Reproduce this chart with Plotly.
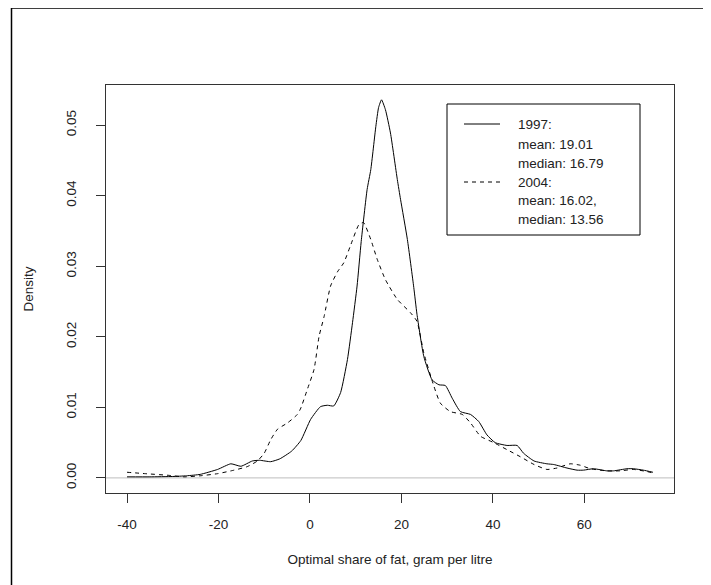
import plotly.graph_objects as go

# 1997 density (solid)
x_1997 = [-40, -35, -30, -27, -24, -20.2, -17.3, -15.1, -12.6, -11, -8.6, -6.6, -4, -2,
          0.15, 2.3, 3.8, 5.2, 6.7, 8.2, 9.3, 10.3, 11.2, 12.5, 13.3, 14.4, 15.0, 15.65,
          16.5, 17.6, 19.1, 19.8, 21.3, 22.7, 23.4, 24.9, 26.7, 28.2, 29.6, 31.1, 32.9,
          35.1, 36.9, 38.7, 40.5, 43.1, 45.3, 46.7, 49, 51.8, 53.3, 56.2, 58.4, 59.8, 62,
          64.9, 66.4, 69.3, 70.7, 72.9, 75]
d_1997 = [0.00015, 0.00015, 0.0002, 0.0003, 0.0005, 0.0012, 0.002, 0.00165, 0.0024, 0.0025,
          0.0023, 0.0027, 0.0038, 0.0053, 0.0083, 0.0101, 0.0103, 0.0102, 0.0121, 0.0168,
          0.022, 0.0272, 0.0335, 0.0409, 0.0437, 0.0498, 0.0525, 0.0536, 0.0522, 0.0489,
          0.0423, 0.0395, 0.0338, 0.027, 0.0232, 0.0172, 0.0139, 0.0132, 0.0131, 0.0113,
          0.0094, 0.009, 0.008, 0.0061, 0.005, 0.0046, 0.0046, 0.0035, 0.0024, 0.002,
          0.0019, 0.0014, 0.0011, 0.0011, 0.0013, 0.001, 0.001, 0.0013, 0.0013, 0.0011, 0.0008]

# 2004 density (dashed)
x_2004 = [-40, -36, -31, -27.5, -24, -20.2, -16.6, -13.7, -11.5, -10, -8.6, -7.1, -4.9,
          -2.75, -2, -0.6, 0.9, 2.0, 3.1, 4.5, 6.0, 7.4, 8.9, 10.7, 11.7, 13.3, 14.7, 16.5,
          19.1, 22.0, 23.4, 24.9, 27.1, 28.5, 30.7, 33.3, 35.1, 37.3, 40.2, 43.1, 46.0,
          49.0, 51.8, 54.0, 56.9, 59.1, 61.3, 64.9, 67.8, 70.7, 73.7, 75]
d_2004 = [0.0008, 0.0006, 0.00037, 0.00015, 0.0003, 0.0006, 0.0011, 0.0016, 0.0024, 0.0035,
          0.0054, 0.0069, 0.0078, 0.009, 0.0099, 0.0125, 0.0154, 0.0201, 0.0229, 0.0272,
          0.0292, 0.0305, 0.0330, 0.0359, 0.0362, 0.0338, 0.031, 0.0281, 0.0253, 0.0234,
          0.0222, 0.0177, 0.013, 0.0106, 0.0094, 0.009, 0.0078, 0.0059, 0.005, 0.004,
          0.003, 0.0019, 0.0012, 0.0014, 0.002, 0.0018, 0.0013, 0.001, 0.001, 0.0012,
          0.0009, 0.0007]

x_ticks = [-40, -20, 0, 20, 40, 60]
y_ticks = [0.00, 0.01, 0.02, 0.03, 0.04, 0.05]

legend_1997 = ["1997:", "mean: 19.01", "median: 16.79"]
legend_2004 = ["2004:", "mean: 16.02,", "median: 13.56"]

FONT = "Liberation Sans, Arial, sans-serif"
W, H = 711, 585
OFF = 8  # page body margin
ML, MR, MT, MB = 98, 45, 77, 100
PW, PH = W - ML - MR, H - MT - MB


def px(xs):
    return (xs - OFF - ML) / PW


def py(ys):
    return (H - MB - (ys - OFF)) / PH


fig = go.Figure()
fig.add_trace(go.Scatter(x=x_1997, y=d_1997, mode="lines",
                         line=dict(color="black", width=1, shape="spline", smoothing=0.5),
                         showlegend=False, hoverinfo="skip"))
fig.add_trace(go.Scatter(x=x_2004, y=d_2004, mode="lines",
                         line=dict(color="black", width=1, dash="4px,4px", shape="spline", smoothing=0.5),
                         showlegend=False, hoverinfo="skip"))

shapes = []
shapes.append(dict(type="line", xref="paper", yref="y", x0=0, x1=1, y0=0, y1=0,
                   line=dict(color="#BEBEBE", width=1), layer="below"))
# outer frame
shapes.append(dict(type="rect", xref="paper", yref="paper", x0=px(11.5), x1=px(740),
                   y0=py(620), y1=py(8), line=dict(color="black", width=1.5)))
# legend box
shapes.append(dict(type="rect", xref="paper", yref="paper", x0=px(447), x1=px(640),
                   y0=py(235), y1=py(104), line=dict(color="black", width=1),
                   fillcolor="white"))
# legend line samples
shapes.append(dict(type="line", xref="paper", yref="paper", x0=px(464), x1=px(500),
                   y0=py(124), y1=py(124), line=dict(color="black", width=1)))
shapes.append(dict(type="line", xref="paper", yref="paper", x0=px(464), x1=px(500),
                   y0=py(182), y1=py(182), line=dict(color="black", width=1, dash="4px,4px")))

annotations = []
ys = [124, 144, 163, 182, 200, 219]
for txt, yy in zip(legend_1997 + legend_2004, ys):
    annotations.append(dict(text=txt, xref="paper", yref="paper", x=px(516), y=py(yy),
                            xanchor="left", yanchor="middle", showarrow=False,
                            font=dict(family=FONT, size=13.5, color="#222")))

fig.update_layout(
    width=W, height=H,
    margin=dict(l=ML, r=MR, t=MT, b=MB, pad=0),
    paper_bgcolor="white", plot_bgcolor="white",
    font=dict(family=FONT, size=13.5, color="#222"),
    shapes=shapes, annotations=annotations,
    xaxis=dict(range=[-44.6, 79.6], tickvals=x_ticks, ticktext=[str(v) for v in x_ticks],
               showgrid=False, zeroline=False, showline=True, mirror=True,
               linecolor="#333", linewidth=1, ticks="outside", ticklen=9,
               tickcolor="#333", tickwidth=1, ticklabelstandoff=10,
               title=dict(text="Optimal share of fat, gram per litre", standoff=23,
                          font=dict(family=FONT, size=13.5, color="#222"))),
    yaxis=dict(range=[-0.00214, 0.0557], tickvals=y_ticks,
               ticktext=["%.2f" % v for v in y_ticks], tickangle=-90,
               showgrid=False, zeroline=False, showline=True, mirror=True,
               linecolor="#333", linewidth=1, ticks="outside", ticklen=9,
               tickcolor="#333", tickwidth=1, ticklabelstandoff=15,
               title=dict(text="Density", standoff=26,
                          font=dict(family=FONT, size=13.5, color="#222"))),
)

fig.write_html("out.html")
